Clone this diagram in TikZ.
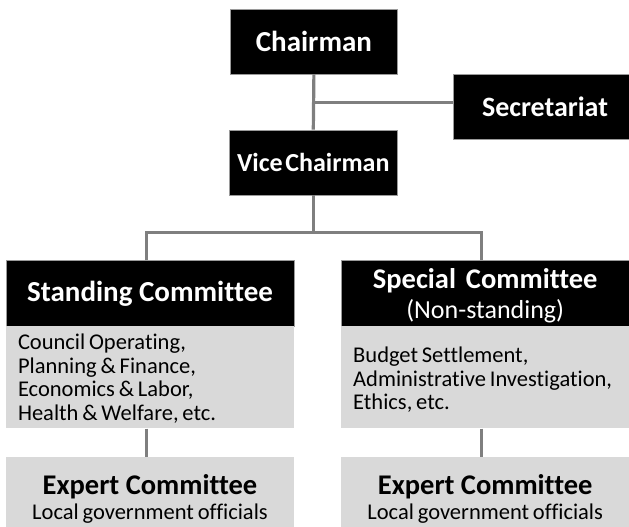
\documentclass[tikz,border=0pt]{standalone}
\usepackage{fontspec}
\setmainfont{Carlito}[Ligatures={NoCommon,TeX}]
\definecolor{linkgray}{HTML}{7F7F7F}
\definecolor{panelgray}{HTML}{D9D9D9}
\definecolor{edgegray}{HTML}{9A9A9A}
% narrower word spaces for the list texts
\protected\def\tightwords{\spaceskip=0.17em plus 0.02em\relax}
\protected\def\experttext{\fontsize{22.5}{25.6}\selectfont\spaceskip=0.17em\relax}
\protected\def\experttitle{\fontsize{28.5}{25.6}\selectfont\bfseries\spaceskip=0pt\relax}
\begin{document}
\begin{tikzpicture}[x=1pt,y=-1pt,
  blackbox/.style={fill=black, draw=edgegray, line width=0.6pt, text=white,
    inner sep=0pt, align=center},
  graybox/.style={fill=panelgray, draw=none, text=black, inner sep=0pt},
  link/.style={draw=linkgray, line width=3.2pt},
  listbox/.style={graybox, minimum width=288pt, minimum height=102.3pt,
    text width=264pt, align=left},
  expertbox/.style={graybox, minimum width=288pt, minimum height=84.6pt,
    align=center, font=\experttext},
]
\useasboundingbox (0,0) rectangle (629,527);
\clip (0,0) rectangle (629,527);

% junction points of the connector lines
\coordinate (jsec) at (314,102.3);
\coordinate (lx) at (146.4,232.3);
\coordinate (rx) at (481.3,232.3);

% top of the chart
\node[blackbox, font=\fontsize{29}{32}\selectfont\bfseries,
  minimum width=166.5pt, minimum height=64.7pt]
  (chair) at (313.9,41.7) {Chairman};
\node[blackbox, font=\fontsize{28}{32}\selectfont\bfseries,
  minimum width=182.6pt, minimum height=64.6pt]
  (sec) at (545,107) {Secretariat};
\node[blackbox, font=\fontsize{26}{30}\selectfont\bfseries,
  minimum width=167.7pt, minimum height=65pt]
  (vice) at (313.3,162.5) {Vice\hspace{0.1em}Chairman};

% committees
\node[blackbox, font=\fontsize{29}{32}\selectfont\bfseries,
  minimum width=288pt, minimum height=65.3pt]
  (sthead) at (150,293.3) {Standing Committee};
\node[listbox, font=\fontsize{22.5}{23.5}\selectfont]
  (stbody) at (150,377.2)
  {\tightwords\rule{0pt}{18pt}Council Operating,\\Planning \& Finance,\\Economics \& Labor,\\Health \& Welfare, etc.};

\node[blackbox, font=\fontsize{26}{30}\selectfont,
  minimum width=288pt, minimum height=65.3pt]
  (sphead) at (485.2,293.3)
  {\rule{0pt}{25pt}{\fontsize{28.5}{30}\selectfont\bfseries Special\hspace{0.35em}Committee}\\
   (Non-standing)};
\node[listbox, font=\fontsize{22.5}{23.7}\selectfont]
  (spbody) at (485.2,377.2)
  {\tightwords\rule{0pt}{20.5pt}Budget Settlement,\\Administrative Investigation,\\Ethics, etc.};

% expert committees
\node[expertbox] (stexp) at (150,499)
  {{\experttitle Expert Committee}\\
   Local government officials};
\node[expertbox] (spexp) at (485.2,499)
  {{\experttitle Expert Committee}\\
   Local government officials};

% lines
\draw[link] (chair.south) -- (vice.north);
\draw[link] (jsec) -- (jsec -| sec.west);
\draw[link] (vice.south) -- (vice.south |- lx);
\draw[link] (lx |- sthead.north) -- (lx) -- (rx) -- (rx |- sphead.north);
\draw[link] (lx |- stbody.south) -- (lx |- stexp.north);
\draw[link] (rx |- spbody.south) -- (rx |- spexp.north);
\end{tikzpicture}
\end{document}
